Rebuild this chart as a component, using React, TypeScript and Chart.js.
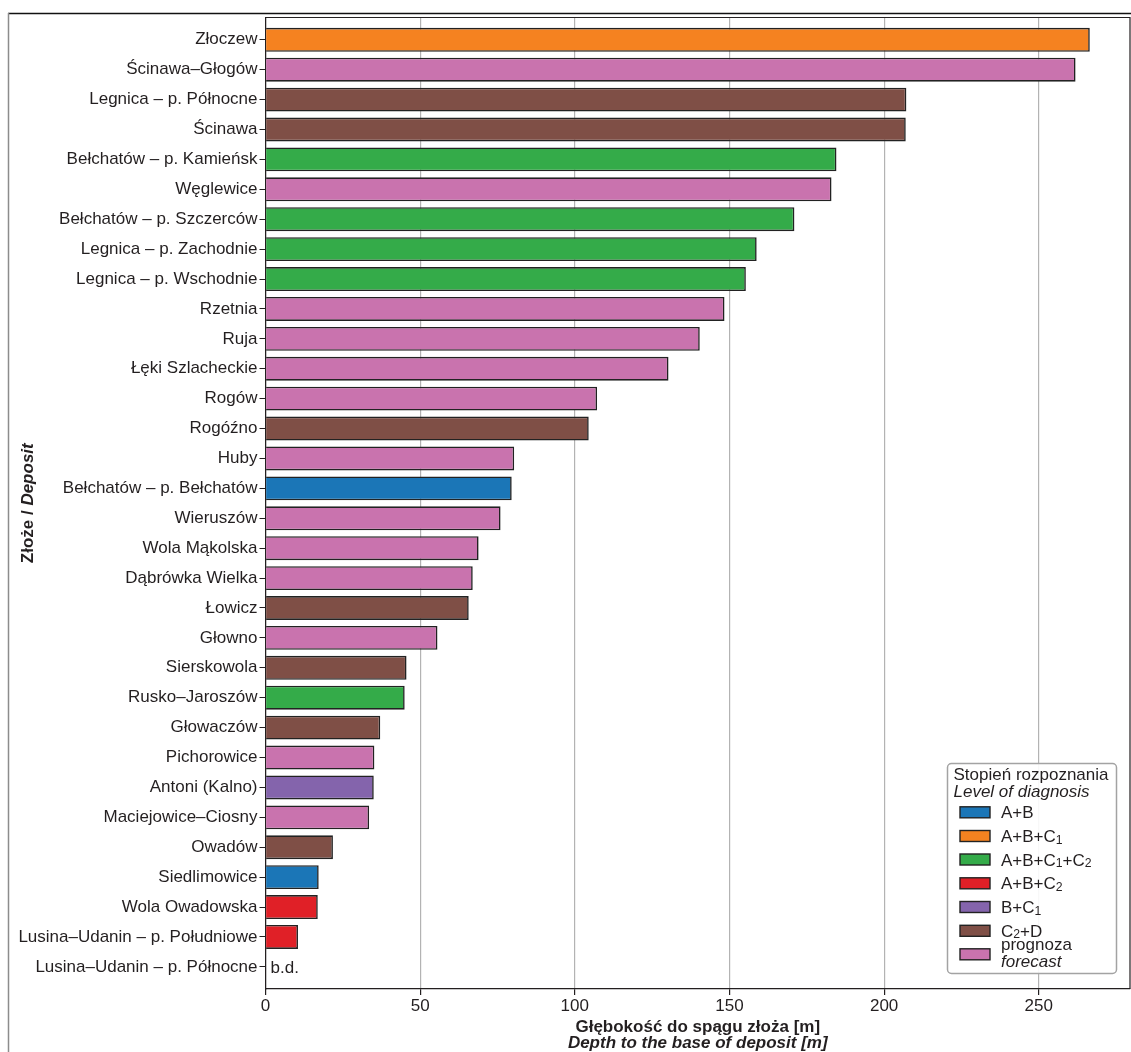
import React, { useEffect, useRef } from 'react';
import { Chart, registerables } from 'chart.js';

Chart.register(...registerables);

// Deposits ordered from deepest to shallowest
const deposits = [
  'Złoczew',
  'Ścinawa–Głogów',
  'Legnica – p. Północne',
  'Ścinawa',
  'Bełchatów – p. Kamieńsk',
  'Węglewice',
  'Bełchatów – p. Szczerców',
  'Legnica – p. Zachodnie',
  'Legnica – p. Wschodnie',
  'Rzetnia',
  'Ruja',
  'Łęki Szlacheckie',
  'Rogów',
  'Rogóźno',
  'Huby',
  'Bełchatów – p. Bełchatów',
  'Wieruszów',
  'Wola Mąkolska',
  'Dąbrówka Wielka',
  'Łowicz',
  'Głowno',
  'Sierskowola',
  'Rusko–Jaroszów',
  'Głowaczów',
  'Pichorowice',
  'Antoni (Kalno)',
  'Maciejowice–Ciosny',
  'Owadów',
  'Siedlimowice',
  'Wola Owadowska',
  'Lusina–Udanin – p. Południowe',
  'Lusina–Udanin – p. Północne',
];

// Depth to the base of each deposit [m]; null = no data
const depths: (number | null)[] = [
  266.5, 261.9, 207.2, 207.0, 184.6, 183.0, 171.0, 158.8, 155.3, 148.4,
  140.4, 130.3, 107.2, 104.5, 80.4, 79.6, 76.0, 68.9, 67.0, 65.7,
  55.6, 45.6, 45.0, 37.1, 35.2, 35.0, 33.5, 21.8, 17.2, 16.9,
  10.5, null,
];

// Level of diagnosis for each deposit
const levels: (string | null)[] = [
  'A+B+C1', 'prognoza', 'C2+D', 'C2+D', 'A+B+C1+C2', 'prognoza', 'A+B+C1+C2', 'A+B+C1+C2',
  'A+B+C1+C2', 'prognoza', 'prognoza', 'prognoza', 'prognoza', 'C2+D', 'prognoza', 'A+B',
  'prognoza', 'prognoza', 'prognoza', 'C2+D', 'prognoza', 'C2+D', 'A+B+C1+C2', 'C2+D',
  'prognoza', 'B+C1', 'prognoza', 'C2+D', 'A+B', 'A+B+C2', 'A+B+C2', null,
];

const levelKeys = ['A+B', 'A+B+C1', 'A+B+C1+C2', 'A+B+C2', 'B+C1', 'C2+D', 'prognoza'];
const levelColors = ['#1b76b7', '#f58220', '#34ab49', '#e02027', '#8464ac', '#7f4f46', '#c973ae'];
const forecastLabel = 'forecast';

const xTicks = [0, 50, 100, 150, 200, 250];
const noDataLabel = 'b.d.';

const legendTitle = ['Stopień rozpoznania', 'Level of diagnosis'];
const xTitle = ['Głębokość do spągu złoża [m]', 'Depth to the base of deposit [m]'];
const yTitle = ['Złoże / ', 'Deposit'];

const FONT = '"Liberation Sans", Arial, Helvetica, sans-serif';
const INK = '#231f20';
const FS = 17;

const colorOf = (lvl: string | null) => {
  const i = lvl ? levelKeys.indexOf(lvl) : -1;
  return i >= 0 ? levelColors[i] : 'rgba(0,0,0,0)';
};

// Draws a level code with digits after "C" set as subscripts
function drawLevel(ctx: CanvasRenderingContext2D, text: string, x: number, y: number, size: number) {
  const parts: { t: string; sub: boolean }[] = [];
  for (let i = 0; i < text.length; i++) {
    const ch = text[i];
    const sub = /[0-9]/.test(ch) && i > 0 && text[i - 1] === 'C';
    const last = parts[parts.length - 1];
    if (last && last.sub === sub) last.t += ch;
    else parts.push({ t: ch, sub });
  }
  let cx = x;
  ctx.textAlign = 'left';
  ctx.textBaseline = 'alphabetic';
  for (const p of parts) {
    if (p.sub) {
      ctx.font = `${size * 0.72}px ${FONT}`;
      ctx.fillText(p.t, cx, y + 1.5);
    } else {
      ctx.font = `${size}px ${FONT}`;
      ctx.fillText(p.t, cx, y);
    }
    cx += ctx.measureText(p.t).width;
  }
}

const decorPlugin = {
  id: 'decor',
  afterDraw(chart: any) {
    const ctx: CanvasRenderingContext2D = chart.ctx;
    const { left, right, top, bottom } = chart.chartArea;
    const xs = chart.scales.x;
    const ys = chart.scales.y;
    ctx.save();

    // page frame
    ctx.strokeStyle = '#111';
    ctx.lineWidth = 1.3;
    ctx.beginPath();
    ctx.moveTo(8, 13.5);
    ctx.lineTo(1131, 13.5);
    ctx.stroke();
    ctx.strokeStyle = '#8c8c8c';
    ctx.lineWidth = 1.5;
    ctx.beginPath();
    ctx.moveTo(8.5, 13);
    ctx.lineTo(8.5, 1052);
    ctx.stroke();

    // top and right spines
    ctx.strokeStyle = INK;
    ctx.lineWidth = 1.2;
    ctx.beginPath();
    ctx.moveTo(left, top);
    ctx.lineTo(right, top);
    ctx.lineTo(right, bottom);
    ctx.stroke();

    // "no data" marks
    ctx.fillStyle = INK;
    ctx.font = `${FS}px ${FONT}`;
    ctx.textAlign = 'left';
    ctx.textBaseline = 'middle';
    depths.forEach((v, i) => {
      if (v === null) ctx.fillText(noDataLabel, xs.getPixelForValue(0) + 5, ys.getPixelForValue(i) + 1);
    });

    // x axis title
    const cx = (left + right) / 2;
    ctx.textAlign = 'center';
    ctx.font = `bold ${FS}px ${FONT}`;
    ctx.fillText(xTitle[0], cx, 1027.5);
    ctx.font = `italic bold ${FS}px ${FONT}`;
    ctx.fillText(xTitle[1], cx, 1043);

    // y axis title
    ctx.save();
    ctx.translate(28.5, (top + bottom) / 2);
    ctx.rotate(-Math.PI / 2);
    ctx.font = `bold ${FS}px ${FONT}`;
    const w0 = ctx.measureText(yTitle[0]).width;
    ctx.font = `italic bold ${FS}px ${FONT}`;
    const w1 = ctx.measureText(yTitle[1]).width;
    const start = -(w0 + w1) / 2;
    ctx.textAlign = 'left';
    ctx.font = `bold ${FS}px ${FONT}`;
    ctx.fillText(yTitle[0], start, 0);
    ctx.font = `italic bold ${FS}px ${FONT}`;
    ctx.fillText(yTitle[1], start + w0, 0);
    ctx.restore();

    // legend
    const bx = 947.5, by = 763.5, bw = 169, bh = 210, r = 4;
    ctx.beginPath();
    ctx.moveTo(bx + r, by);
    ctx.arcTo(bx + bw, by, bx + bw, by + bh, r);
    ctx.arcTo(bx + bw, by + bh, bx, by + bh, r);
    ctx.arcTo(bx, by + bh, bx, by, r);
    ctx.arcTo(bx, by, bx + bw, by, r);
    ctx.closePath();
    ctx.fillStyle = 'rgba(255,255,255,0.9)';
    ctx.fill();
    ctx.strokeStyle = '#a3a3a3';
    ctx.lineWidth = 1.5;
    ctx.stroke();

    ctx.fillStyle = INK;
    ctx.textAlign = 'left';
    ctx.textBaseline = 'middle';
    ctx.font = `${FS}px ${FONT}`;
    ctx.fillText(legendTitle[0], 953.5, 775.5);
    ctx.font = `italic ${FS}px ${FONT}`;
    ctx.fillText(legendTitle[1], 953.5, 792.5);

    const rowY = [812.3, 836, 859.5, 883.3, 907, 930.8, 954.3];
    levelKeys.forEach((k, i) => {
      const y = rowY[i];
      ctx.fillStyle = levelColors[i];
      ctx.fillRect(960, y - 5.5, 30, 11);
      ctx.strokeStyle = '#222';
      ctx.lineWidth = 1.4;
      ctx.strokeRect(960, y - 5.5, 30, 11);
      ctx.fillStyle = INK;
      if (k === 'prognoza') {
        ctx.textBaseline = 'middle';
        ctx.font = `${FS}px ${FONT}`;
        ctx.fillText(k, 1001, 945.5);
        ctx.font = `italic ${FS}px ${FONT}`;
        ctx.fillText(forecastLabel, 1001, 962);
      } else {
        drawLevel(ctx, k, 1001, y + 6, FS);
      }
    });

    ctx.restore();
  },
};

export default function App() {
  const ref = useRef<HTMLCanvasElement | null>(null);

  useEffect(() => {
    if (!ref.current) return;
    const chart = new Chart(ref.current, {
      type: 'bar',
      data: {
        datasets: [
          {
            data: depths.map((v, i) => ({ x: v, y: i })) as any,
            backgroundColor: levels.map(colorOf),
            borderColor: '#222',
            borderWidth: 1.6,
            barPercentage: 0.8,
            categoryPercentage: 1,
          },
        ],
      },
      options: {
        indexAxis: 'y',
        animation: false,
        responsive: false,
        devicePixelRatio: 1,
        layout: { padding: { left: 0, right: 1, top: 17.5, bottom: 0 } },
        plugins: {
          legend: { display: false },
          tooltip: { enabled: false },
        },
        scales: {
          x: {
            type: 'linear',
            min: 0,
            max: 279.5,
            afterBuildTicks: (s: any) => {
              s.ticks = xTicks.map((v) => ({ value: v }));
            },
            afterFit: (s: any) => {
              s.height = 63;
            },
            ticks: {
              font: { family: FONT, size: FS },
              color: INK,
              padding: 1,
            },
            grid: {
              color: '#b3b3b3',
              lineWidth: 1.2,
              tickColor: INK,
              tickLength: 6,
            },
            border: { display: true, color: INK, width: 1.2 },
          },
          y: {
            type: 'linear',
            reverse: true,
            offset: false,
            min: -0.745,
            max: 31.74,
            afterBuildTicks: (s: any) => {
              s.ticks = deposits.map((_, i) => ({ value: i }));
            },
            afterFit: (s: any) => {
              s.width = 265.5;
            },
            ticks: {
              autoSkip: false,
              font: { family: FONT, size: FS },
              color: INK,
              padding: 2,
              callback: (v: any) => deposits[Math.round(Number(v))] ?? '',
            },
            grid: {
              display: true,
              offset: false,
              drawOnChartArea: false,
              drawTicks: true,
              tickColor: INK,
              tickLength: 6,
            },
            border: { display: true, color: INK, width: 1.2 },
          },
        },
      },
      plugins: [decorPlugin],
    });
    return () => chart.destroy();
  }, []);

  return (
    <div style={{ position: 'absolute', left: 0, top: 0, width: 1131, height: 1052, background: '#fff' }}>
      <canvas ref={ref} width={1131} height={1052} style={{ display: 'block' }} />
    </div>
  );
}
